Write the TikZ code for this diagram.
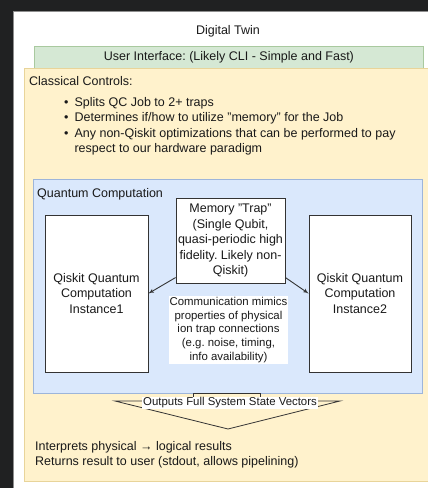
\documentclass[tikz,border=0pt]{standalone}
\usepackage{fontspec}
\setmainfont{Liberation Sans}
\usetikzlibrary{arrows}
\usetikzlibrary{positioning}
\usetikzlibrary{calc}

\definecolor{screenbg}{HTML}{202122}
\definecolor{edgeline}{HTML}{8E8E8E}
\definecolor{uifill}{HTML}{D5E8D4}
\definecolor{uiline}{HTML}{A9C99F}
\definecolor{ctlfill}{HTML}{FFF2CC}
\definecolor{ctlline}{HTML}{E8D49A}
\definecolor{qfill}{HTML}{DAE8FC}
\definecolor{qline}{HTML}{9DB5DA}
\definecolor{inkline}{HTML}{333333}
\newcommand{\mainsize}{\fontsize{12.5}{15.5}\selectfont}
\newcommand{\notesize}{\fontsize{11.4}{13.8}\selectfont}
\frenchspacing

\begin{document}
\begin{tikzpicture}[x = 1pt, y = -1pt, > = latex', font = \mainsize, text = black!90]
\tikzset{
  panel/.style = {rectangle, anchor = north west, inner sep = 0pt, line width = 0.8pt},
  ui/.style = {panel, fill = uifill, draw = uiline},
  classical/.style = {panel, fill = ctlfill, draw = ctlline},
  quantum/.style = {panel, fill = qfill, draw = qline},
  block/.style = {draw = inkline, line width = 0.8pt, fill = white, rectangle, align = center, inner sep = 0pt},
  label/.style = {align = left, anchor = north west, inner sep = 0pt},
  note/.style = {fill = white, align = center, inner sep = 1pt, font = \notesize},
  link/.style = {->, draw = inkline, line width = 0.9pt},
}
\useasboundingbox (0,0) rectangle (428,488);
% screen around the canvas
\fill [screenbg] (0,0) rectangle (428,488);
\fill [white] (13,11) rectangle (428,488);
\draw [edgeline] (13.5,488) -- (13.5,11.5) -- (428,11.5);

\node (digitalTwin) at (228,31) {Digital Twin};
\node [ui, minimum width = 389, minimum height = 22] (userInterface) at (34,46) {User Interface: (Likely CLI - Simple and Fast)};
\node [classical, minimum width = 430, minimum height = 413] (classicalControls) at (24,68) {};
\node [label] (ctlTitle) at (29,76) {Classical Controls:};
\node [label] (ctlList) at (64,95) {\begin{tabular}{@{}l@{\hspace{6pt}}l@{}}
\textbullet & Splits QC Job to 2+ traps\\
\textbullet & Determines if/how to utilize "memory" for the Job\\
\textbullet & Any non-Qiskit optimizations that can be performed to pay\\
 & respect to our hardware paradigm
\end{tabular}};

\node [quantum, minimum width = 389, minimum height = 214] (quantumComputation) at (33,179) {};
\node [label] (qcTitle) at (37,188) {Quantum Computation};
\node [block, minimum width = 103, minimum height = 157] (instance1) at (96.5,293.5) {Qiskit Quantum\\Computation\\Instance1};
\node [block, minimum width = 102, minimum height = 157] (instance2) at (360,293.5) {Qiskit Quantum\\Computation\\Instance2};
\node [block, minimum width = 109, minimum height = 85] (memoryTrap) at (230.5,240.5) {Memory "Trap"\\(Single Qubit,\\quasi-periodic high\\fidelity. Likely non-\\Qiskit)};
\node [note] (commNote) at (228.5,330) {Communication mimics\\properties of physical\\ion trap connections\\(e.g. noise, timing,\\info availability)};
\draw [link] (memoryTrap.214) -- (instance1.east);
\draw [link] (memoryTrap.-34) -- (instance2.west);

% output funnel
\coordinate (outLeft) at (115,401);
\coordinate (outRight) at (340,401);
\coordinate (outTip) at (228,429);
\draw [inkline, line width = 0.8pt] (193,398) -- (193,393) -- (260,393) -- (260,398);
\draw [inkline, line width = 0.8pt] (outLeft) -- (outTip) -- (outRight) -- cycle;
\node [note] (outputs) at (230,403) {Outputs Full System State Vectors};

\node [label] (results) at (35,441) {Interprets physical → logical results\\Returns result to user (stdout, allows pipelining)};
\end{tikzpicture}
\end{document}
